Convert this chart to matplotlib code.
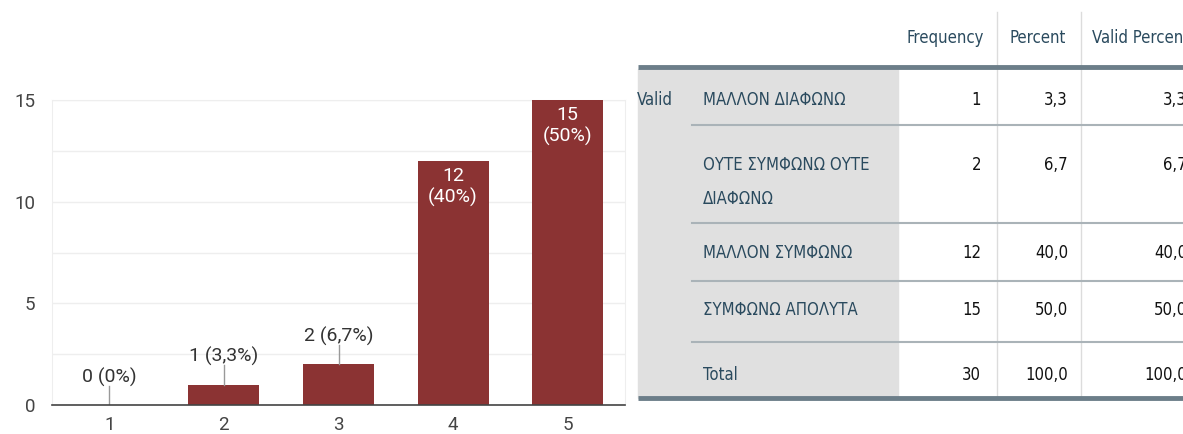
import matplotlib
matplotlib.use("Agg")
import matplotlib.pyplot as plt
from matplotlib import font_manager as fm
from matplotlib.patches import Rectangle

# Chart data
categories = [1, 2, 3, 4, 5]
counts = [0, 1, 2, 12, 15]
pct_labels = ["0%", "3,3%", "6,7%", "40%", "50%"]

# Table data
col_headers = ["Frequency", "Percent", "Valid Percent"]
row_labels = ["ΜΑΛΛΟΝ ΔΙΑΦΩΝΩ", "ΟΥΤΕ ΣΥΜΦΩΝΩ ΟΥΤΕ\nΔΙΑΦΩΝΩ", "ΜΑΛΛΟΝ ΣΥΜΦΩΝΩ",
              "ΣΥΜΦΩΝΩ ΑΠΟΛΥΤΑ", "Total"]
frequency = [1, 2, 12, 15, 30]
percent = ["3,3", "6,7", "40,0", "50,0", "100,0"]
valid_percent = ["3,3", "6,7", "40,0", "50,0", "100,0"]

W, H = 1183, 434
fig = plt.figure(figsize=(W / 100, H / 100), dpi=100)
fig.patch.set_facecolor("white")

bar_color = "#8b3333"
chart_font = ["Roboto", "DejaVu Sans"]

# the table in the screenshot uses a very narrow font; take a narrow one if installed
installed = [(f.name, f.stretch) for f in fm.fontManager.ttflist]
narrow = ("condensed", "semi-condensed", "extra-condensed", "ultra-condensed")
if any(n == "Liberation Sans Narrow" for n, s in installed):
    table_font, table_stretch = ["Liberation Sans Narrow"], "normal"
elif any(n == "Noto Sans" and s in ("extra-condensed", "condensed") for n, s in installed):
    table_font, table_stretch = ["Noto Sans"], "condensed"
elif any(n == "DejaVu Sans" and s in narrow for n, s in installed):
    table_font, table_stretch = ["DejaVu Sans"], "condensed"
else:
    table_font, table_stretch = ["Liberation Sans", "DejaVu Sans"], "normal"

# size the table font so the first row label is about as wide as in the reference
renderer = fig.canvas.get_renderer()
probe = fig.text(0, 0, row_labels[0], fontsize=10, family=table_font, fontstretch=table_stretch)
probe_w = probe.get_window_extent(renderer).width
probe.remove()
table_size = min(16, 10 * 142 / probe_w)

# ---- bar chart ----
ax = fig.add_axes([52 / W, 1 - 405 / H, (625 - 52) / W, (405 - 100) / H])
ax.bar(categories, counts, width=0.62, color=bar_color, zorder=3)
ax.set_xlim(0.5, 5.5)
ax.set_ylim(0, 15)
ax.set_yticks([0, 5, 10, 15])
ax.set_yticks([2.5, 7.5, 12.5], minor=True)
ax.set_xticks(categories)
ax.grid(True, which="both", axis="y", color="#eeeeee", lw=1, zorder=0)
ax.tick_params(which="both", length=0)
ax.tick_params(axis="y", pad=12, labelsize=13.5, labelcolor="#444444")
ax.tick_params(axis="x", pad=8, labelsize=13.5, labelcolor="#444444")
for lab in ax.get_xticklabels() + ax.get_yticklabels():
    lab.set_fontfamily(chart_font)
for s in ["top", "left", "right"]:
    ax.spines[s].set_color("#eeeeee")
ax.spines["bottom"].set_color("#444444")
ax.spines["bottom"].set_linewidth(1.2)
ax.spines["bottom"].set_zorder(4)

for x, v, p in zip(categories, counts, pct_labels):
    if v < 5:
        ax.plot([x, x], [v, v + 0.95], color="#999999", lw=1, zorder=4)
        ax.annotate(f"{v} ({p})", (x, v), xytext=(0, 20), textcoords="offset points",
                    ha="center", va="center", fontsize=14, color="#333333",
                    family=chart_font)
    else:
        ax.annotate(f"{v}\n({p})", (x, v), xytext=(0, -4), textcoords="offset points",
                    ha="center", va="top", fontsize=14, color="white",
                    family=chart_font, linespacing=1.25)

# ---- SPSS-style table (pixel coordinates) ----
tx0 = 630
at = fig.add_axes([tx0 / W, 0, (W - tx0) / W, 1])
at.set_xlim(tx0, W)
at.set_ylim(H, 0)
at.axis("off")

label_color = "#2a4a5e"
tkw = dict(fontsize=table_size, family=table_font, fontstretch=table_stretch)

gray_band = Rectangle((638, 69), 898 - 638, 398 - 69, color="#e0e0e0", zorder=0)
at.add_patch(gray_band)

col_lines = [997, 1081]
for xl in col_lines:
    at.plot([xl, xl], [12, 398], color="#dcdcdc", lw=1, zorder=1)

header_x = [945, 1038, 1092]
header_ha = ["center", "center", "left"]
for hx, ha, h in zip(header_x, header_ha, col_headers):
    at.text(hx, 38, h, ha=ha, va="center", color=label_color, **tkw)

at.plot([638, W], [67, 67], color="#6c7e89", lw=3.5, zorder=2, solid_capstyle="butt")
at.plot([638, W], [398, 398], color="#6c7e89", lw=3.5, zorder=2, solid_capstyle="butt")

row_y = [100, 165, 253, 310, 375]
sep_y = [125, 223, 281, 342]
for sy in sep_y:
    at.plot([692, W], [sy, sy], color="#aab3b8", lw=1.5, zorder=2)

at.text(637, 100, "Valid", ha="left", va="center", color=label_color, **tkw)

val_right = [981, 1068, 1187]
for i, y in enumerate(row_y):
    lines = row_labels[i].split("\n")
    for j, ln in enumerate(lines):
        at.text(703, y + j * 34, ln, ha="left", va="center", color=label_color, **tkw)
    for xr, val in zip(val_right, [str(frequency[i]), percent[i], valid_percent[i]]):
        at.text(xr, y, val, ha="right", va="center", color="#111111", **tkw)

fig.savefig("out.png", dpi=100)
